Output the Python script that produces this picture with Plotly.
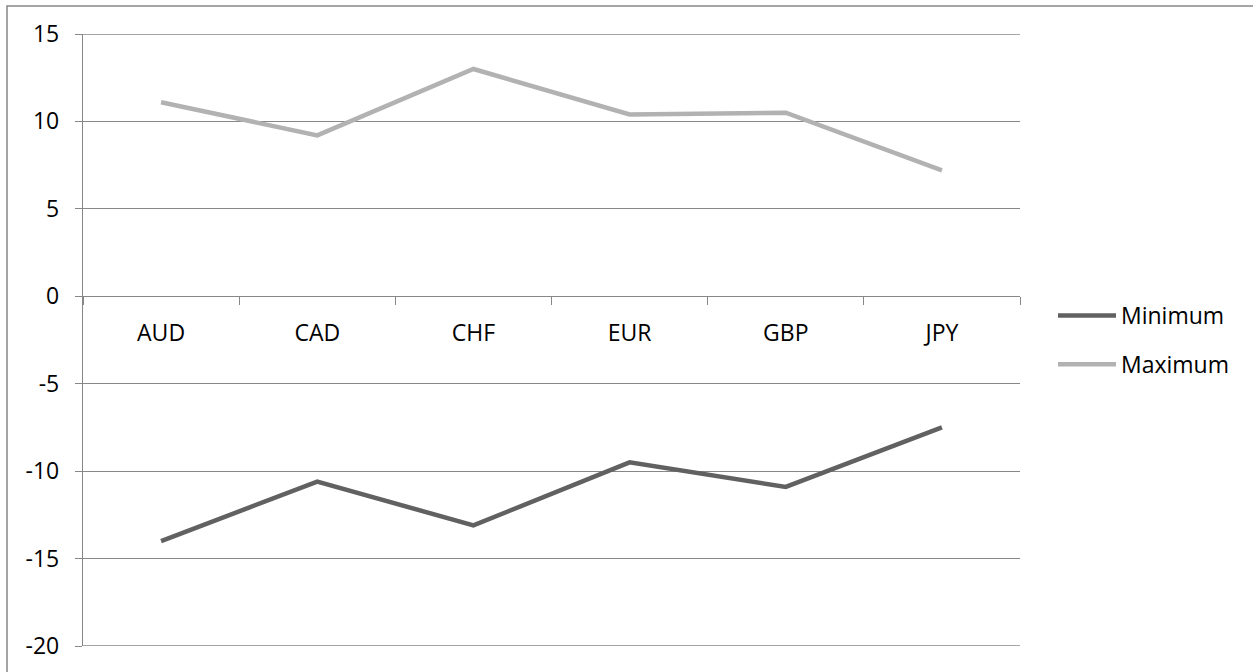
import plotly.graph_objects as go

categories = ["AUD", "CAD", "CHF", "EUR", "GBP", "JPY"]
minimum = [-14.0, -10.6, -13.1, -9.5, -10.9, -7.5]
maximum = [11.1, 9.2, 13.0, 10.4, 10.5, 7.2]
y_ticks = [15, 10, 5, 0, -5, -10, -15, -20]
y_tick_text = ["15", "10", "5", "0", "-5", "-10", "-15", "-20"]

FONT = "Open Sans"
GRID = "#878787"
FS = 23

fig = go.Figure()
fig.add_trace(go.Scatter(x=categories, y=minimum, name="Minimum", mode="lines",
                         line=dict(color="#616161", width=4.5), legendgroup="a"))
fig.add_trace(go.Scatter(x=categories, y=maximum, name="Maximum", mode="lines",
                         line=dict(color="#b2b2b2", width=4.5), legendgroup="b"))

L, T, R, B = 83, 34, 1020, 646
W, H = 1253, 672
pw, ph = R - L, B - T

fig.update_layout(
    width=W, height=H,
    margin=dict(l=L, r=W - R, t=T, b=H - B, pad=0),
    paper_bgcolor="white", plot_bgcolor="white",
    font=dict(family=FONT, size=FS, color="#000000"),
    showlegend=True,
    legend=dict(x=(1053 - L) / pw, y=(B - 340) / ph, xanchor="left", yanchor="middle",
                traceorder="grouped", tracegroupgap=16, itemwidth=58,
                font=dict(family=FONT, size=FS, color="#000000"),
                bgcolor="rgba(0,0,0,0)"),
    xaxis=dict(type="category", anchor="free", position=20 / 35,
               showline=True, linecolor=GRID, linewidth=1.3,
               ticks="outside", tickson="boundaries", ticklen=8, tickcolor=GRID,
               showgrid=False, zeroline=False, ticklabelstandoff=16,
               range=[-0.5, 5.5]),
    yaxis=dict(range=[-20, 15], tickvals=y_ticks, ticktext=y_tick_text,
               showline=True, linecolor=GRID, linewidth=1.3,
               ticks="outside", ticklen=7, tickcolor=GRID,
               showgrid=True, gridcolor=GRID, gridwidth=1.3, zeroline=False,
               ticklabelstandoff=11),
)

# gridlines at the range edges (plotly omits them)
for yv in (y_ticks[0], y_ticks[-1]):
    fig.add_shape(type="line", xref="paper", yref="y", x0=0, x1=1, y0=yv, y1=yv,
                  line=dict(color=GRID, width=1.3), layer="below")

# outer chart-area border
fig.add_shape(type="rect", xref="paper", yref="paper",
              x0=(7 - L) / pw, x1=(W + 20 - L) / pw,
              y0=(B - (H + 20)) / ph, y1=(B - 6) / ph,
              line=dict(color="#888888", width=1.5), fillcolor="rgba(0,0,0,0)", layer="below")

fig.write_html("out.html")
